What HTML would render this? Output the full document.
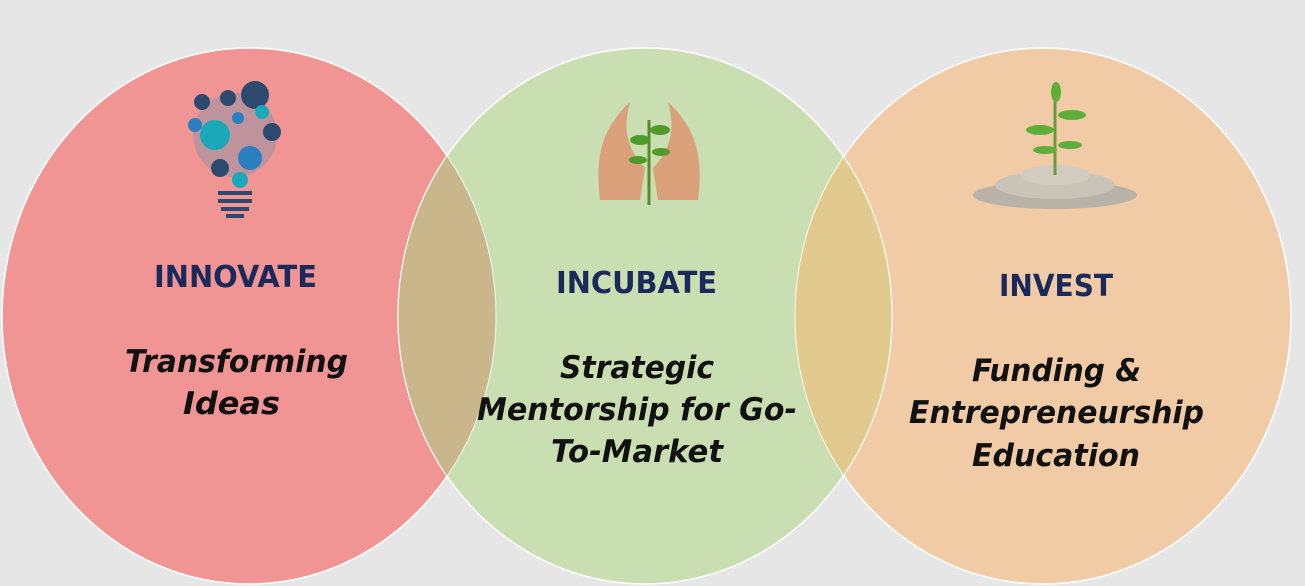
<!DOCTYPE html>
<html><head><meta charset="utf-8"><style>
html,body{margin:0;padding:0;background:#e6e6e6;}
svg{display:block}
.h{font-family:"DejaVu Sans","Liberation Sans",sans-serif;font-weight:bold;fill:#1b2a5a;font-size:30px}
.s{font-family:"DejaVu Sans","Liberation Sans",sans-serif;font-weight:bold;font-style:italic;fill:#111;font-size:31px}
</style></head><body>
<svg width="1305" height="586" viewBox="0 0 1305 586" xmlns="http://www.w3.org/2000/svg">
<defs>
<clipPath id="c1"><ellipse cx="249" cy="316" rx="247" ry="268"/></clipPath>
<clipPath id="c3"><ellipse cx="1043" cy="316" rx="248" ry="268"/></clipPath>
</defs>
<rect width="1305" height="586" fill="#e6e6e6"/>
<ellipse cx="249" cy="316" rx="247" ry="268" fill="#f09494" stroke="#fff" stroke-width="1.5"/>
<ellipse cx="1043" cy="316" rx="248" ry="268" fill="#f0cba6" stroke="#fff" stroke-width="1.5"/>
<ellipse cx="645" cy="316" rx="247" ry="268" fill="#c9dfb1" stroke="#fff" stroke-width="1.5"/>
<ellipse cx="645" cy="316" rx="247" ry="268" fill="#c9b68a" clip-path="url(#c1)"/>
<ellipse cx="645" cy="316" rx="247" ry="268" fill="#e2ca8e" clip-path="url(#c3)"/>
<ellipse cx="645" cy="316" rx="247" ry="268" fill="none" stroke="#fff" stroke-opacity="0.7" stroke-width="1.2"/>
<ellipse cx="249" cy="316" rx="247" ry="268" fill="none" stroke="#fff" stroke-opacity="0.7" stroke-width="1.2"/>
<ellipse cx="1043" cy="316" rx="248" ry="268" fill="none" stroke="#fff" stroke-opacity="0.7" stroke-width="1.2"/>

<!-- bulb icon -->
<g>
<circle cx="235" cy="135" r="42" fill="#2a8fb0" opacity="0.25"/>
<circle cx="255" cy="95" r="14" fill="#2c4a6e"/>
<circle cx="215" cy="135" r="15" fill="#1aa9b8"/>
<circle cx="250" cy="158" r="12" fill="#2a7fc0"/>
<circle cx="228" cy="98" r="8" fill="#2c4a6e"/>
<circle cx="202" cy="102" r="8" fill="#2c4a6e"/>
<circle cx="272" cy="132" r="9" fill="#2c4a6e"/>
<circle cx="195" cy="125" r="7" fill="#2a7fc0"/>
<circle cx="220" cy="168" r="9" fill="#2c4a6e"/>
<circle cx="240" cy="180" r="8" fill="#1aa9b8"/>
<circle cx="262" cy="112" r="7" fill="#1aa9b8"/>
<circle cx="238" cy="118" r="6" fill="#2a7fc0"/>
<rect x="218" y="191" width="34" height="4" fill="#2c4a6e"/>
<rect x="218" y="199" width="34" height="4" fill="#2c4a6e"/>
<rect x="221" y="207" width="28" height="4" fill="#2c4a6e"/>
<rect x="226" y="214" width="18" height="4" fill="#2c4a6e"/>
</g>
<!-- hands icon -->
<g>
<path d="M600 200 C595 160 600 130 630 102 C622 130 628 150 645 168 L640 200 Z" fill="#d9a07a"/>
<path d="M698 200 C703 160 698 130 668 102 C676 130 670 150 653 168 L658 200 Z" fill="#d9a07a"/>
<line x1="649" y1="205" x2="649" y2="120" stroke="#5a8a2a" stroke-width="3"/>
<ellipse cx="640" cy="140" rx="10" ry="5" fill="#4f9a2a"/>
<ellipse cx="660" cy="130" rx="10" ry="5" fill="#4f9a2a"/>
<ellipse cx="638" cy="160" rx="9" ry="4" fill="#4f9a2a"/>
<ellipse cx="661" cy="152" rx="9" ry="4" fill="#4f9a2a"/>
</g>
<!-- coins icon -->
<g>
<ellipse cx="1055" cy="195" rx="82" ry="14" fill="#b8b2a8"/>
<ellipse cx="1055" cy="185" rx="60" ry="14" fill="#c9c3b8"/>
<ellipse cx="1055" cy="175" rx="35" ry="10" fill="#d2ccc0"/>
<line x1="1055" y1="175" x2="1055" y2="85" stroke="#6a9a3a" stroke-width="3"/>
<ellipse cx="1040" cy="130" rx="14" ry="5" fill="#5fae3a"/>
<ellipse cx="1072" cy="115" rx="14" ry="5" fill="#5fae3a"/>
<ellipse cx="1045" cy="150" rx="12" ry="4" fill="#5fae3a"/>
<ellipse cx="1070" cy="145" rx="12" ry="4" fill="#5fae3a"/>
<ellipse cx="1056" cy="92" rx="5" ry="10" fill="#5fae3a"/>
</g>

<text class="h" x="154" y="287" textLength="163" lengthAdjust="spacingAndGlyphs">INNOVATE</text>
<text class="s" x="125" y="372" textLength="223" lengthAdjust="spacingAndGlyphs">Transforming</text>
<text class="s" x="183" y="414" textLength="97" lengthAdjust="spacingAndGlyphs">Ideas</text>

<text class="h" x="556" y="293" textLength="161" lengthAdjust="spacingAndGlyphs">INCUBATE</text>
<text class="s" x="560" y="378" textLength="154" lengthAdjust="spacingAndGlyphs">Strategic</text>
<text class="s" x="477" y="420" textLength="320" lengthAdjust="spacingAndGlyphs">Mentorship for Go-</text>
<text class="s" x="551" y="462" textLength="172" lengthAdjust="spacingAndGlyphs">To-Market</text>

<text class="h" x="999" y="296" textLength="114" lengthAdjust="spacingAndGlyphs">INVEST</text>
<text class="s" x="972" y="381" textLength="169" lengthAdjust="spacingAndGlyphs">Funding &amp;</text>
<text class="s" x="909" y="423" textLength="295" lengthAdjust="spacingAndGlyphs">Entrepreneurship</text>
<text class="s" x="972" y="466" textLength="168" lengthAdjust="spacingAndGlyphs">Education</text>
</svg>
</body></html>
